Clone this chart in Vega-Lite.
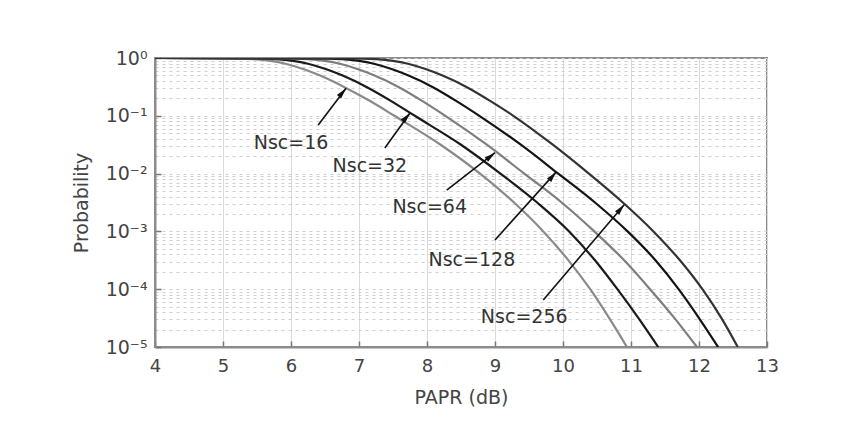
{
  "$schema": "https://vega.github.io/schema/vega-lite/v6.json",
  "width": 612,
  "height": 289,
  "autosize": {"type": "none"},
  "padding": {"left": 155, "top": 58, "right": 84, "bottom": 77},
  "background": "white",
  "config": {
    "view": {"stroke": "#8c8c8c", "strokeWidth": 2},
    "font": "DejaVu Sans"
  },
  "datasets": {
    "curves": [
      {"nsc": "16", "papr": 4, "prob": 1},
      {"nsc": "16", "papr": 5.05, "prob": 0.9886},
      {"nsc": "16", "papr": 5.45, "prob": 0.955},
      {"nsc": "16", "papr": 5.7, "prob": 0.891},
      {"nsc": "16", "papr": 5.92, "prob": 0.794},
      {"nsc": "16", "papr": 6.2, "prob": 0.631},
      {"nsc": "16", "papr": 6.42, "prob": 0.501},
      {"nsc": "16", "papr": 6.78, "prob": 0.316},
      {"nsc": "16", "papr": 7.17, "prob": 0.178},
      {"nsc": "16", "papr": 7.52, "prob": 0.1},
      {"nsc": "16", "papr": 8.2, "prob": 0.0316},
      {"nsc": "16", "papr": 8.78, "prob": 0.01},
      {"nsc": "16", "papr": 9.28, "prob": 0.00316},
      {"nsc": "16", "papr": 9.71, "prob": 0.001},
      {"nsc": "16", "papr": 10.08, "prob": 0.000316},
      {"nsc": "16", "papr": 10.4, "prob": 0.0001},
      {"nsc": "16", "papr": 10.68, "prob": 0.0000316},
      {"nsc": "16", "papr": 10.94, "prob": 0.00001},
      {"nsc": "32", "papr": 4, "prob": 1},
      {"nsc": "32", "papr": 5.38, "prob": 0.9886},
      {"nsc": "32", "papr": 5.78, "prob": 0.955},
      {"nsc": "32", "papr": 6.03, "prob": 0.891},
      {"nsc": "32", "papr": 6.25, "prob": 0.794},
      {"nsc": "32", "papr": 6.53, "prob": 0.631},
      {"nsc": "32", "papr": 6.75, "prob": 0.501},
      {"nsc": "32", "papr": 7.11, "prob": 0.316},
      {"nsc": "32", "papr": 7.48, "prob": 0.178},
      {"nsc": "32", "papr": 7.82, "prob": 0.1},
      {"nsc": "32", "papr": 8.5, "prob": 0.0316},
      {"nsc": "32", "papr": 9.08, "prob": 0.01},
      {"nsc": "32", "papr": 9.62, "prob": 0.00316},
      {"nsc": "32", "papr": 10.09, "prob": 0.001},
      {"nsc": "32", "papr": 10.47, "prob": 0.000316},
      {"nsc": "32", "papr": 10.8, "prob": 0.0001},
      {"nsc": "32", "papr": 11.11, "prob": 0.0000316},
      {"nsc": "32", "papr": 11.4, "prob": 0.00001},
      {"nsc": "64", "papr": 4, "prob": 1},
      {"nsc": "64", "papr": 5.85, "prob": 0.9886},
      {"nsc": "64", "papr": 6.25, "prob": 0.955},
      {"nsc": "64", "papr": 6.5, "prob": 0.891},
      {"nsc": "64", "papr": 6.72, "prob": 0.794},
      {"nsc": "64", "papr": 7.0, "prob": 0.631},
      {"nsc": "64", "papr": 7.22, "prob": 0.501},
      {"nsc": "64", "papr": 7.58, "prob": 0.316},
      {"nsc": "64", "papr": 7.94, "prob": 0.178},
      {"nsc": "64", "papr": 8.27, "prob": 0.1},
      {"nsc": "64", "papr": 8.88, "prob": 0.0316},
      {"nsc": "64", "papr": 9.43, "prob": 0.01},
      {"nsc": "64", "papr": 9.98, "prob": 0.00316},
      {"nsc": "64", "papr": 10.46, "prob": 0.001},
      {"nsc": "64", "papr": 10.9, "prob": 0.000316},
      {"nsc": "64", "papr": 11.28, "prob": 0.0001},
      {"nsc": "64", "papr": 11.64, "prob": 0.0000316},
      {"nsc": "64", "papr": 11.97, "prob": 0.00001},
      {"nsc": "128", "papr": 4, "prob": 1},
      {"nsc": "128", "papr": 6.35, "prob": 0.9886},
      {"nsc": "128", "papr": 6.75, "prob": 0.955},
      {"nsc": "128", "papr": 7.0, "prob": 0.891},
      {"nsc": "128", "papr": 7.22, "prob": 0.794},
      {"nsc": "128", "papr": 7.5, "prob": 0.631},
      {"nsc": "128", "papr": 7.72, "prob": 0.501},
      {"nsc": "128", "papr": 8.08, "prob": 0.316},
      {"nsc": "128", "papr": 8.44, "prob": 0.178},
      {"nsc": "128", "papr": 8.77, "prob": 0.1},
      {"nsc": "128", "papr": 9.38, "prob": 0.0316},
      {"nsc": "128", "papr": 9.93, "prob": 0.01},
      {"nsc": "128", "papr": 10.47, "prob": 0.00316},
      {"nsc": "128", "papr": 10.95, "prob": 0.001},
      {"nsc": "128", "papr": 11.36, "prob": 0.000316},
      {"nsc": "128", "papr": 11.7, "prob": 0.0001},
      {"nsc": "128", "papr": 12.0, "prob": 0.0000316},
      {"nsc": "128", "papr": 12.28, "prob": 0.00001},
      {"nsc": "256", "papr": 4, "prob": 1},
      {"nsc": "256", "papr": 6.85, "prob": 0.9886},
      {"nsc": "256", "papr": 7.25, "prob": 0.955},
      {"nsc": "256", "papr": 7.5, "prob": 0.891},
      {"nsc": "256", "papr": 7.72, "prob": 0.794},
      {"nsc": "256", "papr": 8.0, "prob": 0.631},
      {"nsc": "256", "papr": 8.22, "prob": 0.501},
      {"nsc": "256", "papr": 8.58, "prob": 0.316},
      {"nsc": "256", "papr": 8.94, "prob": 0.178},
      {"nsc": "256", "papr": 9.27, "prob": 0.1},
      {"nsc": "256", "papr": 9.85, "prob": 0.0316},
      {"nsc": "256", "papr": 10.38, "prob": 0.01},
      {"nsc": "256", "papr": 10.88, "prob": 0.00316},
      {"nsc": "256", "papr": 11.33, "prob": 0.001},
      {"nsc": "256", "papr": 11.72, "prob": 0.000316},
      {"nsc": "256", "papr": 12.05, "prob": 0.0001},
      {"nsc": "256", "papr": 12.33, "prob": 0.0000316},
      {"nsc": "256", "papr": 12.57, "prob": 0.00001}
    ],
    "notes": [
      {"nsc": "16", "label": "Nsc=16", "tx": 6.4, "tp": 0.0693, "hx": 6.81, "hp": 0.3, "lx": 6.0, "lp": 0.0338},
      {"nsc": "32", "label": "Nsc=32", "tx": 7.38, "tp": 0.0277, "hx": 7.75, "hp": 0.112, "lx": 7.16, "lp": 0.0135},
      {"nsc": "64", "label": "Nsc=64", "tx": 8.29, "tp": 0.0052, "hx": 9.0, "hp": 0.023, "lx": 8.04, "lp": 0.00264},
      {"nsc": "128", "label": "Nsc=128", "tx": 9.0, "tp": 0.00071, "hx": 9.9, "hp": 0.0107, "lx": 8.66, "lp": 0.00032},
      {"nsc": "256", "label": "Nsc=256", "tx": 9.71, "tp": 0.000065, "hx": 10.9, "hp": 0.0029, "lx": 9.43, "lp": 0.000033}
    ]
  },
  "layer": [
    {
      "data": {"name": "curves"},
      "mark": {"type": "line", "interpolate": "monotone", "strokeWidth": 2.2, "clip": true},
      "encoding": {
        "x": {
          "field": "papr", "type": "quantitative",
          "scale": {"domain": [4, 13], "nice": false, "zero": false},
          "axis": {
            "values": [4, 5, 6, 7, 8, 9, 10, 11, 12, 13],
            "format": "d", "labelFlush": false,
            "grid": true, "gridColor": "#dadada", "gridWidth": 1,
            "domainColor": "#8c8c8c", "domainWidth": 2,
            "ticks": true, "tickSize": -6, "tickColor": "#777", "tickWidth": 1.5,
            "labelFontSize": 18, "labelColor": "#444", "labelPadding": 16,
            "labelFont": "DejaVu Sans",
            "title": "PAPR (dB)", "titleFontSize": 19, "titleFontWeight": "normal",
            "titleColor": "#444", "titlePadding": 13, "titleFont": "DejaVu Sans"
          }
        },
        "y": {
          "field": "prob", "type": "quantitative",
          "scale": {"type": "log", "domain": [0.00001, 1]},
          "axis": {
            "values": [0.00001, 0.00002, 0.00003, 0.00004, 0.00005, 0.00006, 0.00007, 0.00008, 0.00009,
                       0.0001, 0.0002, 0.0003, 0.0004, 0.0005, 0.0006, 0.0007, 0.0008, 0.0009,
                       0.001, 0.002, 0.003, 0.004, 0.005, 0.006, 0.007, 0.008, 0.009,
                       0.01, 0.02, 0.03, 0.04, 0.05, 0.06, 0.07, 0.08, 0.09,
                       0.1, 0.2, 0.3, 0.4, 0.5, 0.6, 0.7, 0.8, 0.9, 1],
            "labelExpr": "datum.value == 1 ? '10⁰' : datum.value == 0.1 ? '10⁻¹' : datum.value == 0.01 ? '10⁻²' : datum.value == 0.001 ? '10⁻³' : datum.value == 0.0001 ? '10⁻⁴' : datum.value == 0.00001 ? '10⁻⁵' : ''",
            "grid": true, "gridColor": "#cfcfcf", "gridWidth": 1, "gridDash": [3, 4],
            "domainColor": "#8c8c8c", "domainWidth": 2,
            "ticks": true, "tickSize": -6, "tickColor": "#777", "tickWidth": 1.5,
            "tickOpacity": {"condition": {"test": "datum.value == 1 || datum.value == 0.1 || datum.value == 0.01 || datum.value == 0.001 || datum.value == 0.0001 || datum.value == 0.00001", "value": 1}, "value": 0},
            "labelFontSize": 19, "labelColor": "#444", "labelPadding": 14,
            "labelFont": "DejaVu Sans", "labelOverlap": false,
            "title": "Probability", "titleFontSize": 19, "titleFontWeight": "normal",
            "titleColor": "#444", "titlePadding": 14, "titleFont": "DejaVu Sans"
          }
        },
        "color": {
          "field": "nsc", "type": "nominal",
          "scale": {"domain": ["16", "32", "64", "128", "256"], "range": ["#8a8a8a", "#1a1a1a", "#7e7e7e", "#141414", "#333333"]},
          "legend": null
        }
      }
    },
    {
      "data": {"name": "notes"},
      "mark": {"type": "rule", "stroke": "#111", "strokeWidth": 1.6},
      "encoding": {
        "x": {"field": "tx", "type": "quantitative"},
        "y": {"field": "tp", "type": "quantitative"},
        "x2": {"field": "hx"},
        "y2": {"field": "hp"}
      }
    },
    {
      "data": {"name": "notes"},
      "mark": {"type": "point", "shape": "M0,0L-0.55,2.2L0.55,2.2Z", "filled": true, "fill": "#111", "size": 100, "opacity": 1},
      "encoding": {
        "x": {"field": "hx", "type": "quantitative"},
        "y": {"field": "hp", "type": "quantitative"},
        "angle": {"condition": {"test": "datum.nsc == '64'", "value": 51}, "value": 40}
      }
    },
    {
      "data": {"name": "notes"},
      "mark": {"type": "text", "fontSize": 19, "font": "DejaVu Sans", "color": "#333", "align": "center", "baseline": "middle"},
      "encoding": {
        "x": {"field": "lx", "type": "quantitative"},
        "y": {"field": "lp", "type": "quantitative"},
        "text": {"field": "label"}
      }
    }
  ]
}
